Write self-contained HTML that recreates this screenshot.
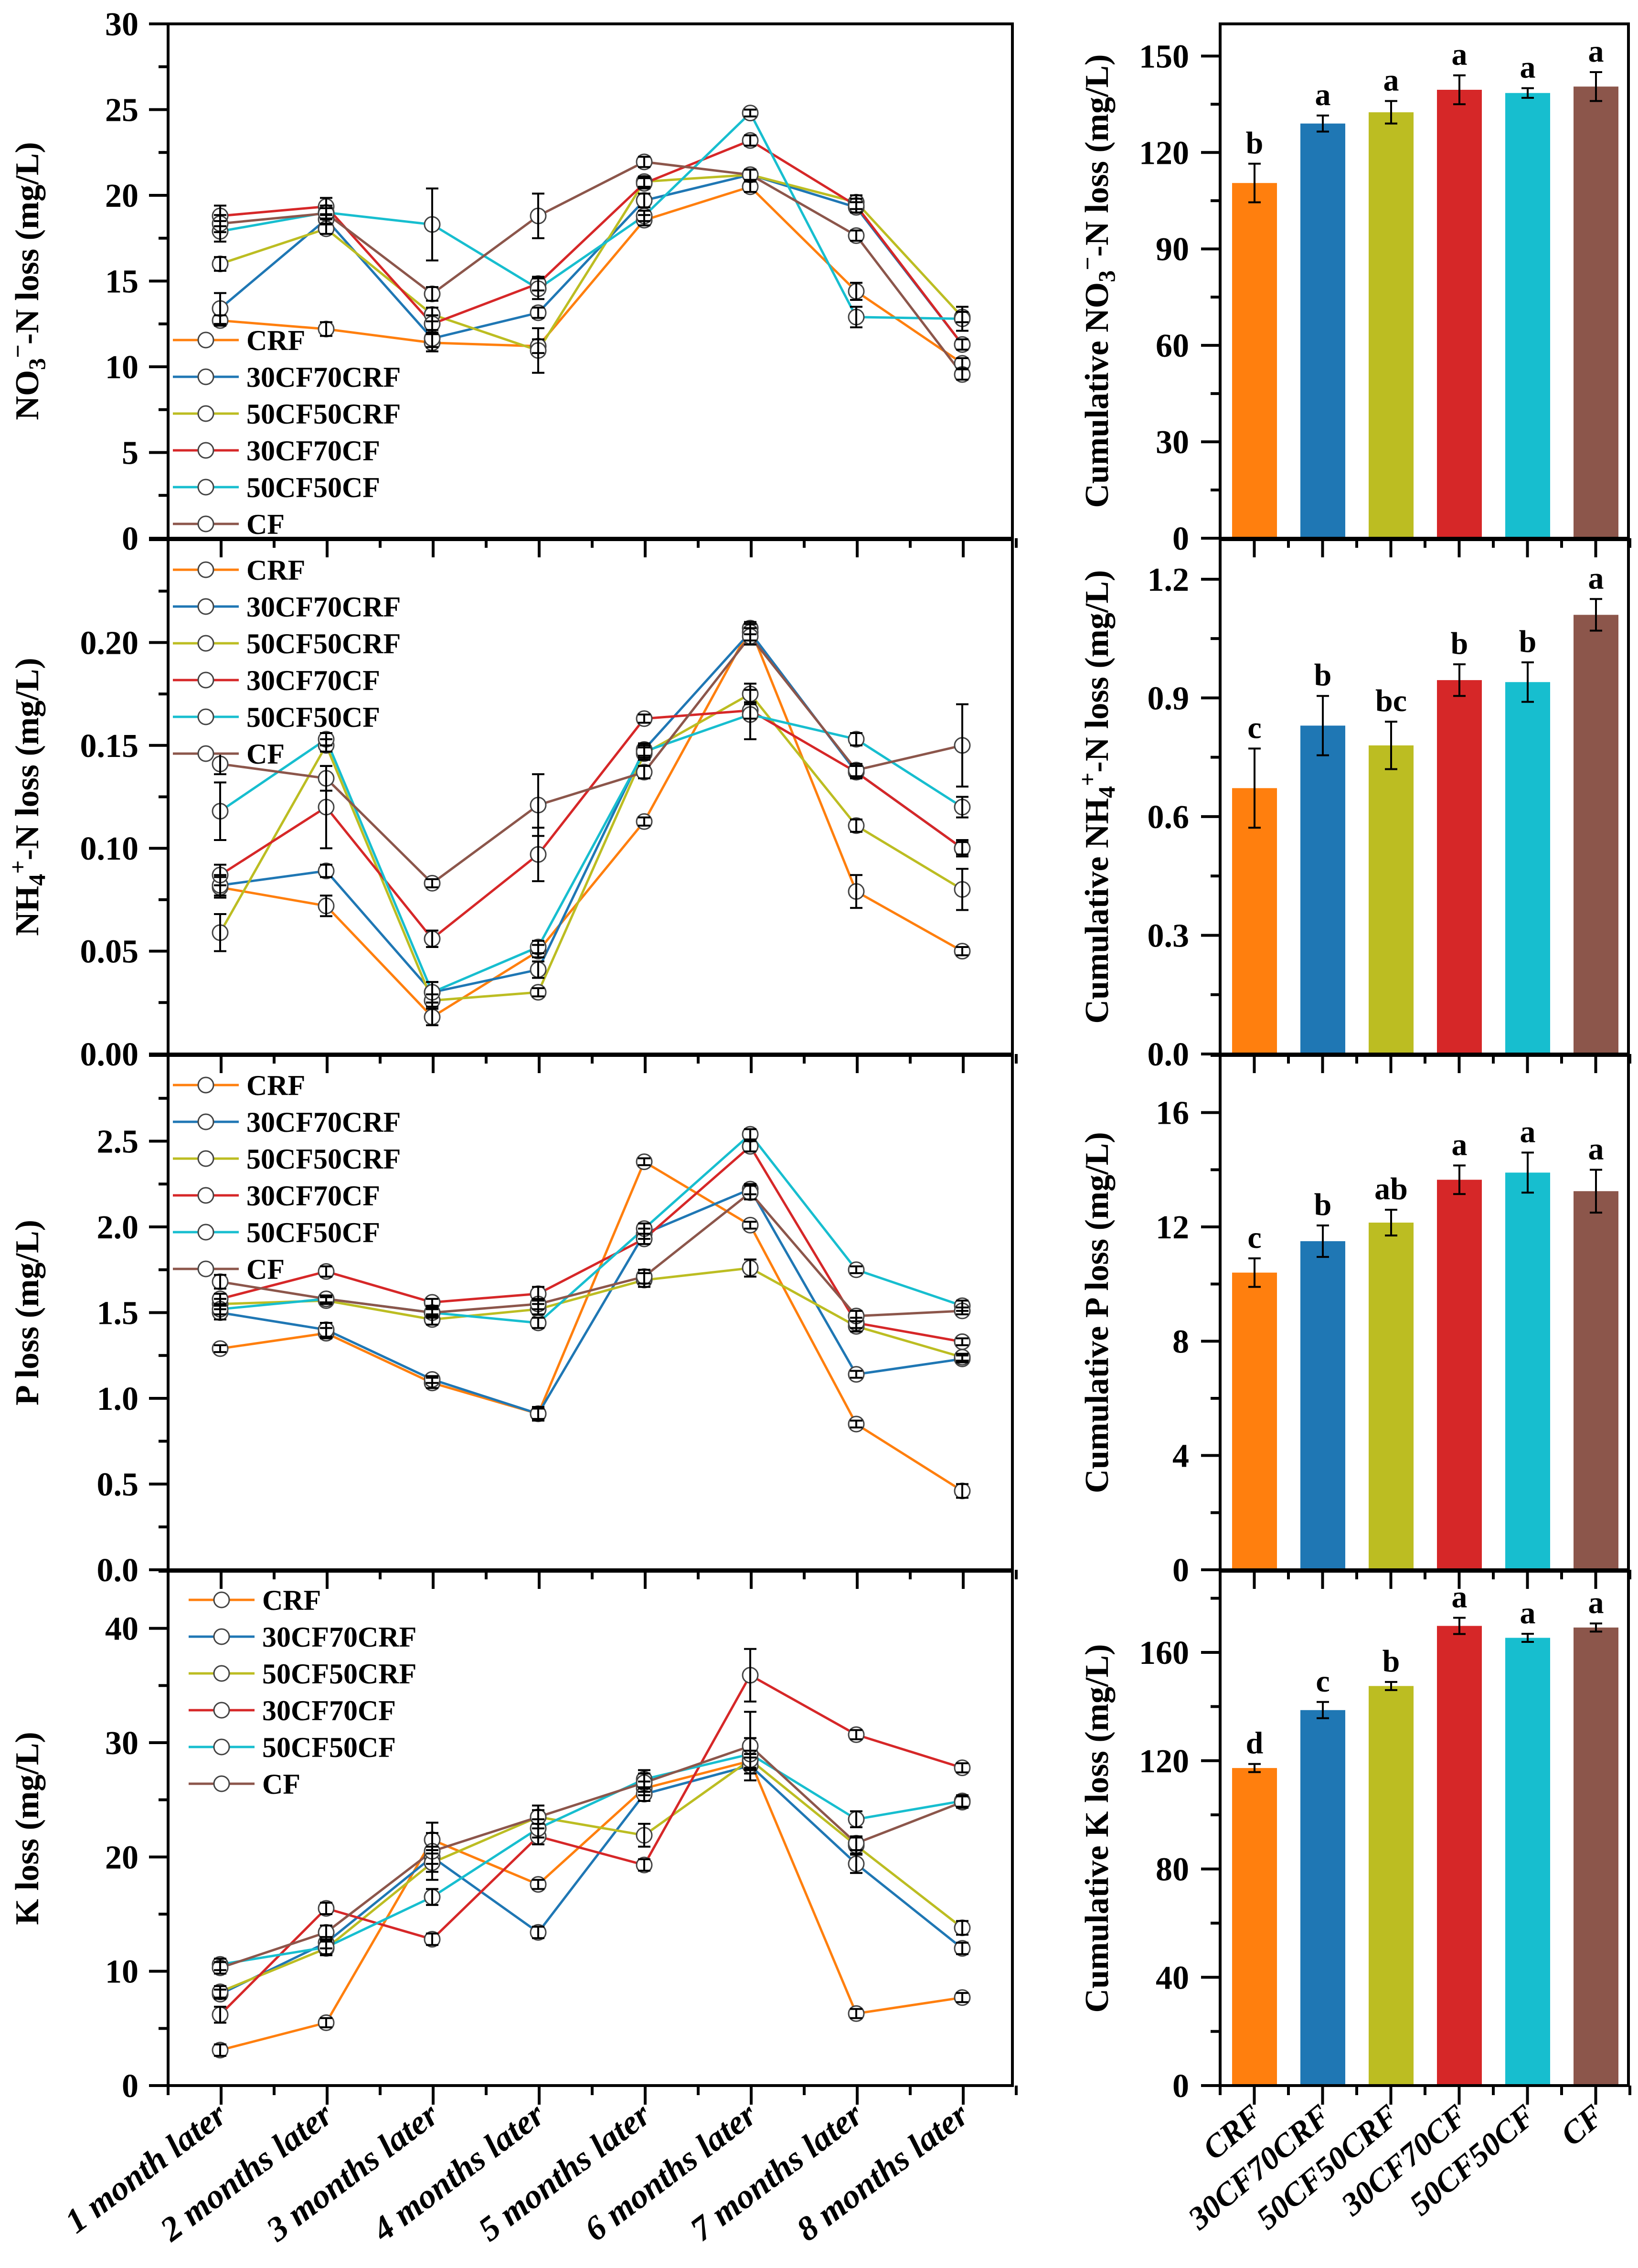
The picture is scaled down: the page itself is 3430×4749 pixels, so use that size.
<!DOCTYPE html>
<html><head><meta charset="utf-8">
<style>
html,body{margin:0;padding:0;background:#fff;}
svg{display:block;font-family:"Liberation Serif","Times New Roman",serif;font-weight:bold;}
text{font-family:"Liberation Serif","Times New Roman",serif;}
</style></head>
<body>
<svg id="fig" width="3430" height="4749" viewBox="0 0 3430 4749" xmlns="http://www.w3.org/2000/svg" font-family="Liberation Serif, serif" font-weight="bold"></svg>
<script>
// ---------- data ----------
const months = ["1 month later","2 months later","3 months later","4 months later","5 months later","6 months later","7 months later","8 months later"];
const treatments = ["CRF","30CF70CRF","50CF50CRF","30CF70CF","50CF50CF","CF"];
const colors = ["#ff7f0e","#1f77b4","#bcbd22","#d62728","#17becf","#8c564b"];

const no3Values = [
 [12.7,12.2,11.4,11.2,18.55,20.5,14.4,10.2],
 [13.4,18.6,11.65,13.15,19.7,21.2,19.3,11.3],
 [16.0,18.05,13.05,10.95,20.8,21.2,19.6,12.9],
 [18.8,19.35,12.5,14.85,20.7,23.2,19.4,11.3],
 [17.9,19.0,18.3,14.55,18.8,24.8,12.9,12.8],
 [18.35,18.95,14.25,18.8,21.95,21.2,17.65,9.55]];
const no3Errors = [
 [0.3,0.4,0.5,0.4,0.3,0.3,0.5,0.3],[0.9,0.3,0.5,0.3,0.4,0.3,0.3,0.3],
 [0.4,0.3,0.4,1.3,0.3,0.3,0.4,0.3],[0.6,0.5,0.5,0.4,0.3,0.3,0.4,0.3],
 [0.6,0.4,2.1,0.6,0.3,0.2,0.6,0.7],[0.5,0.3,0.4,1.3,0.3,0.3,0.3,0.3]];

const nh4Values = [
 [0.081,0.072,0.018,0.050,0.113,0.207,0.079,0.050],
 [0.082,0.089,0.030,0.041,0.148,0.205,0.137,0.100],
 [0.059,0.150,0.026,0.030,0.146,0.175,0.111,0.080],
 [0.087,0.120,0.056,0.097,0.163,0.167,0.137,0.100],
 [0.118,0.153,0.030,0.052,0.147,0.165,0.153,0.120],
 [0.141,0.134,0.083,0.121,0.137,0.203,0.138,0.150]];
const nh4Errors = [
 [0.005,0.005,0.004,0.003,0.002,0.003,0.008,0.002],[0.005,0.003,0.005,0.004,0.003,0.004,0.003,0.003],
 [0.009,0.003,0.003,0.002,0.003,0.005,0.003,0.010],[0.005,0.020,0.004,0.013,0.002,0.004,0.003,0.004],
 [0.014,0.003,0.005,0.003,0.003,0.012,0.003,0.005],[0.005,0.006,0.002,0.015,0.003,0.004,0.003,0.020]];

const pValues = [
 [1.29,1.38,1.09,0.91,2.38,2.01,0.85,0.46],
 [1.50,1.40,1.11,0.91,1.96,2.22,1.14,1.23],
 [1.55,1.57,1.46,1.52,1.69,1.76,1.42,1.24],
 [1.58,1.74,1.56,1.61,1.93,2.47,1.44,1.33],
 [1.52,1.58,1.50,1.44,1.99,2.54,1.75,1.54],
 [1.68,1.58,1.50,1.55,1.71,2.20,1.48,1.51]];
const pErrors = [
 [0.02,0.03,0.03,0.03,0.02,0.02,0.02,0.04],[0.04,0.04,0.02,0.04,0.03,0.03,0.02,0.02],
 [0.03,0.02,0.03,0.03,0.04,0.05,0.03,0.02],[0.03,0.03,0.02,0.04,0.03,0.03,0.03,0.02],
 [0.03,0.02,0.02,0.03,0.03,0.03,0.02,0.03],[0.04,0.02,0.03,0.03,0.04,0.04,0.03,0.02]];

const kValues = [
 [3.1,5.5,21.5,17.6,26.0,28.4,6.3,7.7],
 [8.0,12.5,20.0,13.4,25.5,28.0,19.4,12.0],
 [8.2,12.0,19.5,23.5,21.9,28.5,21.0,13.8],
 [6.2,15.5,12.8,21.8,19.3,35.9,30.7,27.8],
 [10.6,12.1,16.5,22.5,26.8,29.0,23.3,24.9],
 [10.3,13.4,20.5,23.5,26.5,29.7,21.2,24.8]];
const kErrors = [
 [0.5,0.4,0.6,0.4,0.6,0.6,0.4,0.4],[0.4,0.5,0.6,0.5,0.6,0.7,0.8,0.5],
 [0.5,0.6,0.8,0.6,1.0,0.8,0.7,0.6],[0.7,0.5,0.5,0.7,0.5,2.3,0.4,0.4],
 [0.5,0.6,0.7,0.8,0.8,1.4,0.7,0.5],[0.5,0.6,2.5,1.0,0.8,3.0,0.6,0.5]];

const cumNO3 = [110.5,129,132.5,139.5,138.5,140.5];
const cumNO3Err = [6,2.5,3.5,4.5,1.5,4.5];
const cumNO3Letters = ["b","a","a","a","a","a"];
const cumNH4 = [0.672,0.83,0.78,0.945,0.94,1.11];
const cumNH4Err = [0.1,0.075,0.06,0.04,0.05,0.04];
const cumNH4Letters = ["c","b","bc","b","b","a"];
const cumP = [10.4,11.5,12.15,13.65,13.9,13.25];
const cumPErr = [0.5,0.55,0.45,0.5,0.7,0.75];
const cumPLetters = ["c","b","ab","a","a","a"];
const cumK = [117.3,138.7,147.6,169.8,165.4,169.2];
const cumKErr = [1.5,3.0,1.5,3.0,1.5,1.5];
const cumKLetters = ["d","c","b","a","a","a"];

const leftTicks = [["0","5","10","15","20","25","30"],["0.00","0.05","0.10","0.15","0.20"],["0.0","0.5","1.0","1.5","2.0","2.5"],["0","10","20","30","40"]];
const rightTicks = [["0","30","60","90","120","150"],["0.0","0.3","0.6","0.9","1.2"],["0","4","8","12","16"],["0","40","80","120","160"]];

// ---------- layout ----------
const NS="http://www.w3.org/2000/svg";
const svg=document.getElementById('fig');
function mk(tag,attrs,parent){const e=document.createElementNS(NS,tag);for(const k in attrs)e.setAttribute(k,attrs[k]);(parent||svg).appendChild(e);return e;}
const LX0=352,LX1=2120,RX0=2555,RX1=3410;
const PT=[50,1130,2210,3290],PB=[1127,2207,3287,4367];
const leftMax=[30,0.25,3,45],leftMinor=[2.5,0.025,0.25,5];
const rightMax=[160,1.3,18,190],rightMinor=[15,0.15,2,20];
function lx(i){return 461+222*i;}
function rx(i){return 2627+143*i;}
function ly(p,v){return PB[p]-v/leftMax[p]*(PB[p]-PT[p]);}
function ry(p,v){return PB[p]-v/rightMax[p]*(PB[p]-PT[p]);}
const panels=[[no3Values,no3Errors],[nh4Values,nh4Errors],[pValues,pErrors],[kValues,kErrors]];
const bars=[[cumNO3,cumNO3Err,cumNO3Letters],[cumNH4,cumNH4Err,cumNH4Letters],[cumP,cumPErr,cumPLetters],[cumK,cumKErr,cumKLetters]];
const leftTitles=['NO<tspan dy="14" font-size="50">3</tspan><tspan dy="-40" font-size="50">−</tspan><tspan dy="26">-N loss (mg/L)</tspan>',
 'NH<tspan dy="14" font-size="50">4</tspan><tspan dy="-40" font-size="50">+</tspan><tspan dy="26">-N loss (mg/L)</tspan>',
 'P loss (mg/L)','K loss (mg/L)'];
const rightTitles=['Cumulative NO<tspan dy="14" font-size="50">3</tspan><tspan dy="-40" font-size="50">−</tspan><tspan dy="26">-N loss (mg/L)</tspan>',
 'Cumulative NH<tspan dy="14" font-size="50">4</tspan><tspan dy="-40" font-size="50">+</tspan><tspan dy="26">-N loss (mg/L)</tspan>',
 'Cumulative P loss (mg/L)','Cumulative K loss (mg/L)'];
const legY0=[712,1193,2272,3350],legDX=[0,0,0,33];

for(let p=0;p<4;p++){
 const g=mk('g',{});
 
 
 const fr=mk('rect',{x:LX0,y:PT[p],width:LX1-LX0,height:PB[p]-PT[p],fill:'none',stroke:'#000','stroke-width':6},g);
 
 
 const nMin=Math.round(leftMax[p]/leftMinor[p]);
 for(let k=0;k<=nMin;k++){const y=ly(p,k*leftMinor[p]);const major=k%2===0;
  mk('line',{x1:LX0-(major?40:20),x2:LX0,y1:y,y2:y,stroke:'#000','stroke-width':6},g);}
 leftTicks[p].forEach((t,k)=>{const v=k*leftMinor[p]*2;const tx=mk('text',{x:290,y:ly(p,v)+24,'text-anchor':'end','font-size':70},g);tx.textContent=t;
  });
 for(let k=0;k<=16;k++){const x=LX0+k*111;const major=k%2===1;
  mk('line',{x1:x,x2:x,y1:PB[p],y2:PB[p]+(major?40:20),stroke:'#000','stroke-width':6},g);}
 const tt=mk('text',{x:0,y:0,'text-anchor':'middle','font-size':70,transform:`translate(80,${(PT[p]+PB[p])/2}) rotate(-90)`},g);
 tt.innerHTML=leftTitles[p];
 
 const [vals,errs]=panels[p];
 vals.forEach((ser,s)=>{
  const pts=ser.map((v,i)=>lx(i)+','+ly(p,v)).join(' ');
  const pl=mk('polyline',{points:pts,fill:'none',stroke:colors[s],'stroke-width':5},g);
  
  
 });
 vals.forEach((ser,s)=>{ser.forEach((v,i)=>{
  const c=mk('circle',{cx:lx(i),cy:ly(p,v),r:16,fill:'#fff',stroke:'#444','stroke-width':3},g);
  
  
 });});
 vals.forEach((ser,s)=>{ser.forEach((v,i)=>{
  const e=errs[s][i],x=lx(i),y1=ly(p,v+e),y2=ly(p,v-e);
  const eb=mk('path',{d:`M${x},${y1}V${y2}M${x-13},${y1}H${x+13}M${x-13},${y2}H${x+13}`,stroke:'#000','stroke-width':4,fill:'none'},g);
  
  
 });});
 treatments.forEach((t,s)=>{
  const y=legY0[p]+77*s,dx=legDX[p];
  const lg=mk('g',{},g);
  
  
  mk('line',{x1:362+dx,x2:500+dx,y1:y,y2:y,stroke:colors[s],'stroke-width':5},lg);
  mk('circle',{cx:431+dx,cy:y,r:16,fill:'#fff',stroke:'#444','stroke-width':3},lg);
  const tx=mk('text',{x:516+dx,y:y+21,'font-size':60},lg);tx.textContent=t;
 });

 const r=mk('g',{});
 
 
 const [bv,be,bl]=bars[p];
 bv.forEach((v,i)=>{
  const b=mk('rect',{x:rx(i)-47,y:ry(p,v),width:94,height:PB[p]-ry(p,v),fill:colors[i]},r);
  
  
  const x=rx(i),y1=ry(p,v+be[i]),y2=ry(p,v-be[i]);
  const eb=mk('path',{d:`M${x},${y1}V${y2}M${x-13},${y1}H${x+13}M${x-13},${y2}H${x+13}`,stroke:'#000','stroke-width':4,fill:'none'},r);
  
  
  const lt=mk('text',{x:x,y:y1-22,'text-anchor':'middle','font-size':66},r);lt.textContent=bl[i];
  
  
 });
 const rf=mk('rect',{x:RX0,y:PT[p],width:RX1-RX0,height:PB[p]-PT[p],fill:'none',stroke:'#000','stroke-width':6},r);
 
 
 const rn=Math.floor(rightMax[p]/rightMinor[p]+1e-6);
 for(let k=0;k<=rn;k++){const y=ry(p,k*rightMinor[p]);const major=k%2===0;
  mk('line',{x1:RX0-(major?40:20),x2:RX0,y1:y,y2:y,stroke:'#000','stroke-width':6},r);}
 rightTicks[p].forEach((t,k)=>{const tx=mk('text',{x:2490,y:ry(p,k*rightMinor[p]*2)+24,'text-anchor':'end','font-size':70},r);tx.textContent=t;
  });
 for(let k=0;k<=12;k++){const x=RX0+k*71.5;const major=k%2===1;
  mk('line',{x1:x,x2:x,y1:PB[p],y2:PB[p]+(major?40:20),stroke:'#000','stroke-width':6},r);}
 const rt=mk('text',{x:0,y:0,'text-anchor':'middle','font-size':70,transform:`translate(2320,${(PT[p]+PB[p])/2}) rotate(-90)`},r);
 rt.innerHTML=rightTitles[p];
 
}
months.forEach((m,i)=>{
 const t=mk('text',{x:0,y:0,'text-anchor':'end','font-size':72,'font-style':'italic',transform:`translate(${lx(i)+18},${4438}) rotate(-37)`});
 t.textContent=m;
 
 
});
treatments.forEach((m,i)=>{
 const t=mk('text',{x:0,y:0,'text-anchor':'end','font-size':68,'font-style':'italic',transform:`translate(${rx(i)+20},${4438}) rotate(-40)`});
 t.textContent=m;
 
 
});
</script>
</body></html>
